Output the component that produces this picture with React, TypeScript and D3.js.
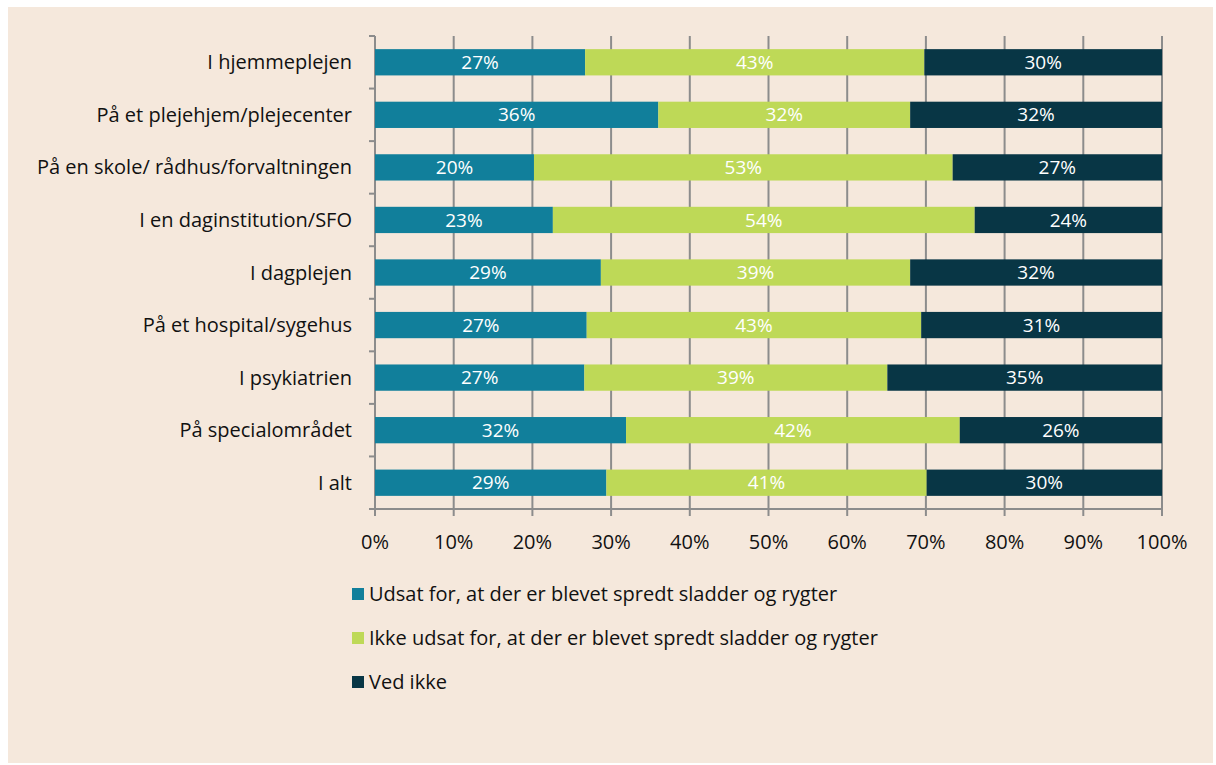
import React from "react";
import * as d3 from "d3";

const categories = [
  "I hjemmeplejen",
  "På et plejehjem/plejecenter",
  "På en skole/ rådhus/forvaltningen",
  "I en daginstitution/SFO",
  "I dagplejen",
  "På et hospital/sygehus",
  "I psykiatrien",
  "På specialområdet",
  "I alt",
];
const udsat = [26.7, 36.0, 20.2, 22.6, 28.7, 26.9, 26.6, 31.9, 29.4];
const ikkeUdsat = [43.1, 32.0, 53.2, 53.6, 39.3, 42.5, 38.5, 42.4, 40.7];
const vedIkke = [30.2, 32.0, 26.6, 23.8, 32.0, 30.6, 34.9, 25.7, 29.9];
const seriesNames = [
  "Udsat for, at der er blevet spredt sladder og rygter",
  "Ikke udsat for, at der er blevet spredt sladder og rygter",
  "Ved ikke",
];
const seriesColors = ["#117f9b", "#bed957", "#083645"];
const xTicks = [0, 10, 20, 30, 40, 50, 60, 70, 80, 90, 100];

export default function App() {
  const W = 1216, H = 765;
  const left = 375, right = 1162, top = 36, bottom = 509;
  const x = d3.scaleLinear().domain([0, 100]).range([left, right]);
  const y = d3.scaleBand().domain(categories).range([top, bottom]).paddingInner(0.5).paddingOuter(0.25);
  const font = "'Open Sans', 'Noto Sans', sans-serif";
  const rows = categories.map((c, i) => {
    const vals = [udsat[i], ikkeUdsat[i], vedIkke[i]];
    let acc = 0;
    return vals.map((v, k) => {
      const s = { c, k, x0: acc, x1: acc + v, v };
      acc += v;
      return s;
    });
  });
  const step = (bottom - top) / categories.length;
  return (
    <svg width={W} height={H} style={{ position: "absolute", left: 0, top: 0 }}>
      <rect x={0} y={0} width={W} height={H} fill="#ffffff" />
      <rect x={8} y={7} width={1205} height={756} fill="#f5e8dc" />
      {xTicks.slice(1).map((t) => (
        <line key={"g" + t} x1={x(t)} x2={x(t)} y1={top} y2={bottom + 7} stroke="#8c8c8c" strokeWidth={2} />
      ))}
      <line x1={left} x2={left} y1={top} y2={bottom + 7} stroke="#8c8c8c" strokeWidth={2} />
      <line x1={left} x2={right} y1={bottom} y2={bottom} stroke="#8c8c8c" strokeWidth={2} />
      {d3.range(categories.length + 1).map((i) => (
        <line key={"yt" + i} x1={left - 6} x2={left} y1={top + i * step} y2={top + i * step} stroke="#8c8c8c" strokeWidth={2} />
      ))}
      {rows.map((segs) =>
        segs.map((s) => (
          <g key={s.c + s.k}>
            <rect x={x(s.x0)} y={y(s.c)!} width={x(s.x1) - x(s.x0)} height={y.bandwidth()} fill={seriesColors[s.k]} />
            <text x={(x(s.x0) + x(s.x1)) / 2} y={y(s.c)! + y.bandwidth() / 2} dy="0.35em" textAnchor="middle" fill="#ffffff" fontFamily={font} fontSize={19}>
              {Math.round(s.v) + "%"}
            </text>
          </g>
        ))
      )}
      {categories.map((c) => (
        <text key={"l" + c} x={352} y={y(c)! + y.bandwidth() / 2} dy="0.35em" textAnchor="end" fill="#111111" fontFamily={font} fontSize={20}>
          {c}
        </text>
      ))}
      {xTicks.map((t) => (
        <text key={"xt" + t} x={x(t)} y={542} dy="0.35em" textAnchor="middle" fill="#111111" fontFamily={font} fontSize={20}>
          {t + "%"}
        </text>
      ))}
      {seriesNames.map((n, i) => (
        <g key={"lg" + i}>
          <rect x={352} y={588 + i * 44} width={12} height={12} fill={seriesColors[i]} />
          <text x={369} y={594 + i * 44} dy="0.35em" fill="#111111" fontFamily={font} fontSize={20}>
            {n}
          </text>
        </g>
      ))}
    </svg>
  );
}
